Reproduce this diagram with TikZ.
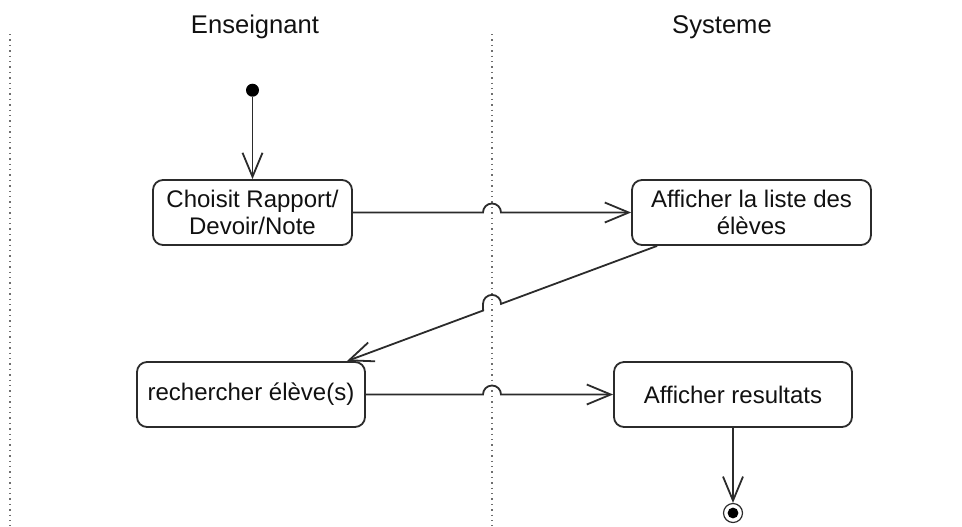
\documentclass[tikz,border=0pt]{standalone}
\usepackage{fontspec}
\setmainfont{Liberation Sans}
\usetikzlibrary{arrows.meta, positioning, calc}
\definecolor{actLine}{HTML}{2B2B2B}
\definecolor{actText}{HTML}{111111}
\definecolor{laneGray}{HTML}{6E6E6E}
\tikzset{
  flow/.style={-{Straight Barb[length=12pt,width=10pt]}, line width=0.9pt, draw=actLine},
  activity/.style={
    rectangle,
    rounded corners=5pt,
    draw=actLine,
    line width=0.9pt,
    fill=white,
    minimum height=32.5pt,
    align=center,
    inner sep=2pt,
    text=actText,
    font=\fontsize{12}{13.5}\selectfont
  },
  lane/.style={draw=laneGray, dotted, line width=0.7pt},
  lanetitle/.style={font=\fontsize{12.8}{14}\selectfont, text=actText},
  initial/.style={circle, fill=black, minimum size=6.5pt, inner sep=0pt},
  final/.style={
    circle,
    draw=actLine,
    line width=0.6pt,
    minimum size=9.5pt,
    inner sep=0pt,
    path picture={\fill[black] (path picture bounding box.center) circle (2.7pt);}
  }
}

\begin{document}
\begin{tikzpicture}[x=0.5pt, y=0.5pt]
\useasboundingbox (0,0) rectangle (962,-526);

% couloirs
\coordinate (laneA) at (10,-34);
\coordinate (laneB) at (492,-34);
\draw[lane] (laneA) -- (10,-526);
\draw[lane] (laneB) -- (492,-526);

\node[lanetitle] (ens) at (255,-27) {Enseignant};
\node[lanetitle] (sys) at (722,-27) {Systeme};

\node[activity, minimum width=99.5pt] (choix) at (252.5,-212.5) {Choisit Rapport/\\Devoir/Note};
\node[activity, minimum width=119.5pt] (liste) at (751.5,-212.5) {Afficher la liste des\\élèves};
\node[activity, minimum width=114pt] (recherche) at (251,-394.5) {rechercher élève(s)};
\node[activity, minimum width=119pt] (resultats) at (733,-394.5) {Afficher resultats};

\node[initial, above=41pt of choix] (debut) {};
\node[final, below=37.5pt of resultats] (fin) {};

\coordinate (sortie) at ($(liste.south west)+(26,0)$);
\coordinate (entree) at ($(recherche.north east)+(-19,0)$);

\draw[flow] (debut) -- (choix);
\draw[flow] (choix.east) -- ($(laneB |- choix.east)+(-9,0)$) arc[start angle=180, end angle=0, radius=4.5pt] -- (liste.west);
\draw[flow] (sortie) -- ($(sortie)!0.5032!(entree)$) arc[start angle=0, end angle=180, radius=4.5pt] -- ($(sortie)!0.5609!(entree)$) -- (entree);
\draw[flow] (recherche.east) -- ($(laneB |- recherche.east)+(-9,0)$) arc[start angle=180, end angle=0, radius=4.5pt] -- (resultats.west);
\draw[flow] (resultats) -- (fin);

\end{tikzpicture}
\end{document}
